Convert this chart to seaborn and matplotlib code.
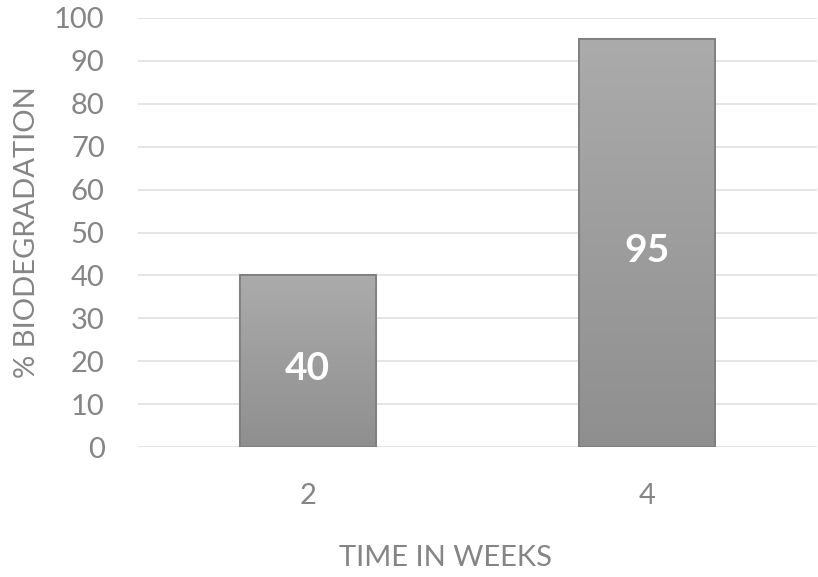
import numpy as np
import pandas as pd
import matplotlib
matplotlib.use("Agg")
import matplotlib.pyplot as plt
import seaborn as sns

weeks = ["2", "4"]
biodegradation = [40, 95]
y_ticks = [0, 10, 20, 30, 40, 50, 60, 70, 80, 90, 100]

sns.set_theme(style="white")
plt.rcParams["font.family"] = ["Lato", "DejaVu Sans"]

df = pd.DataFrame({"week": weeks, "pct": biodegradation})

fig = plt.figure(figsize=(8.18, 5.77), dpi=100)
ax = fig.add_axes([138 / 818, 1 - 447 / 577, (817 - 138) / 818, (447 - 18) / 577])

sns.barplot(data=df, x="week", y="pct", ax=ax, width=0.4,
            color="#9c9c9c", edgecolor="#7c7c7c", linewidth=1.2, zorder=3)

# vertical grey gradient inside each bar
grad = np.linspace(0, 1, 256).reshape(-1, 1)
cmap = matplotlib.colors.LinearSegmentedColormap.from_list("bar", ["#8f8f8f", "#ababab"])
for patch in ax.patches:
    x0, y0 = patch.get_x(), patch.get_y()
    w, h = patch.get_width(), patch.get_height()
    im = ax.imshow(grad, extent=[x0, x0 + w, y0, y0 + h], origin="lower",
                   cmap=cmap, aspect="auto", zorder=3.5)
    im.set_clip_path(patch)
    edge = plt.Rectangle((x0, y0), w, h, fill=False, edgecolor="#7c7c7c",
                         linewidth=1.2, zorder=4)
    ax.add_patch(edge)

for i, v in enumerate(biodegradation):
    ax.annotate(f"{v}", xy=(i, v / 2), xytext=(0, -3), textcoords="offset points",
                ha="center", va="center_baseline", color="white",
                fontsize=28, fontweight="bold", zorder=5)

ax.set_xlim(-0.5, 1.5)
ax.set_ylim(0, 100)
ax.set_yticks(y_ticks)
ax.yaxis.grid(True, color="#e3e3e3", linewidth=1.3, zorder=0)
ax.set_axisbelow(True)
for s in ax.spines.values():
    s.set_visible(False)
ax.tick_params(axis="both", length=0, labelsize=21, labelcolor="#858585")
ax.tick_params(axis="y", pad=24)
ax.tick_params(axis="x", pad=26)

ax.set_xlabel("TIME IN WEEKS", fontsize=21, color="#858585", labelpad=26)
ax.xaxis.label.set_x(0.4536)
ax.set_ylabel("% BIODEGRADATION", fontsize=21, color="#858585", labelpad=10)

fig.savefig("out.png", dpi=100)
